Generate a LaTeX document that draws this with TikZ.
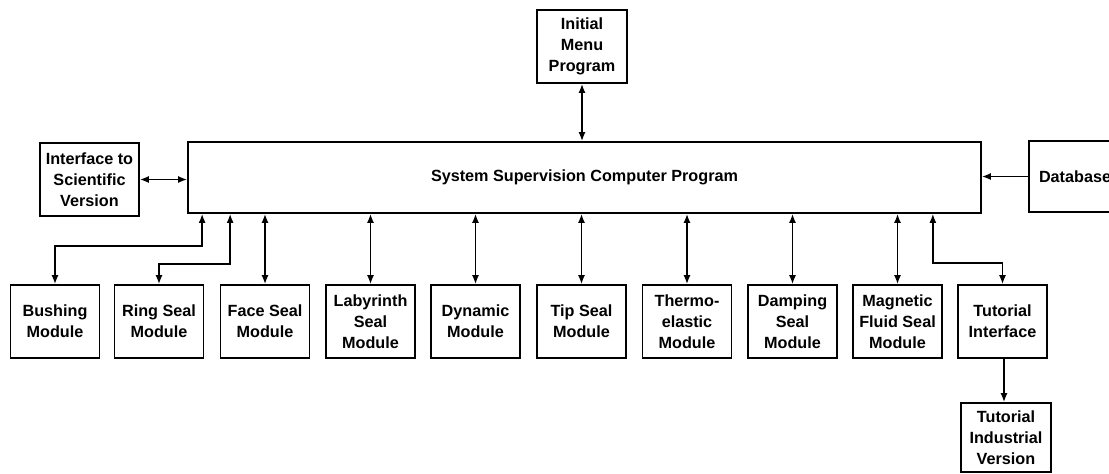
\documentclass[tikz,border=0pt]{standalone}
\usepackage{fontspec}
\setmainfont{Liberation Sans}
\usetikzlibrary{arrows.meta,calc}
\begin{document}
\begin{tikzpicture}[x=1pt,y=-1pt,
  box/.style={draw,line width=1.7pt,inner sep=0pt,align=center,
    font=\bfseries\fontsize{16.2}{21}\selectfont},
  mod/.style={box,minimum width=89pt,minimum height=73pt},
  conn/.style={line width=1.6pt,{Latex[length=9pt,width=7pt]}-{Latex[length=9pt,width=7pt]}},
  oneway/.style={line width=1.6pt,-{Latex[length=9pt,width=7pt]}}]
\useasboundingbox (0,0) rectangle (1109,474);
\clip (0,0) rectangle (1109,474);
\node[box,minimum width=793pt,minimum height=71pt] (main) at (584.5,177.5) {System Supervision Computer Program};
\node[box,minimum width=90pt,minimum height=73pt] (init) at (582,46.5) {Initial\\Menu\\Program};
\node[box,minimum width=99pt,minimum height=73pt] (iface) at (89.5,179.5) {Interface to\\Scientific\\Version};
\node[box,minimum width=96pt,minimum height=71pt,text width=76pt,align=left] (db) at (1077,176.5) {Database};
\node[mod] (bush) at (55,321.5) {Bushing\\Module};
\node[mod] (ring) at (159,321.5) {Ring Seal\\Module};
\node[mod] (face) at (265,321.5) {Face Seal\\Module};
\node[mod] (laby) at (370.5,321.5) {Labyrinth\\Seal\\Module};
\node[mod] (dyn) at (475.5,321.5) {Dynamic\\Module};
\node[mod] (tip) at (581.5,321.5) {Tip Seal\\Module};
\node[mod] (thermo) at (687,321.5) {Thermo-\\elastic\\Module};
\node[mod] (damp) at (792.5,321.5) {Damping\\Seal\\Module};
\node[mod] (magn) at (897.5,321.5) {Magnetic\\Fluid Seal\\Module};
\node[mod] (tut) at (1002.5,321.5) {Tutorial\\Interface};
\node[box,minimum width=90pt,minimum height=69pt] (tind) at (1006,437.5) {Tutorial\\Industrial\\Version};
% connectors
\draw[conn] (init.south) -- (main.north -| init.south);
\draw[conn] (iface.east) -- (main.west |- iface.east);
\draw[oneway] (db.west) -- (main.east |- db.west);
\draw[conn] ($(main.south west)+(15,0)$) -- ++(0,32) -| (bush.north);
\draw[conn] ($(main.south west)+(43,0)$) -- ++(0,50) -| (ring.north);
\draw[conn] (main.south -| face.north) -- (face.north);
\draw[conn] (main.south -| laby.north) -- (laby.north);
\draw[conn] (main.south -| dyn.north) -- (dyn.north);
\draw[conn] (main.south -| tip.north) -- (tip.north);
\draw[conn] (main.south -| thermo.north) -- (thermo.north);
\draw[conn] (main.south -| damp.north) -- (damp.north);
\draw[conn] (main.south -| magn.north) -- (magn.north);
\draw[conn] ($(main.south east)+(-49,0)$) -- ++(0,49) -| (tut.north);
\draw[oneway] ($(tut.south)+(1.5,0)$) -- ($(tind.north)+(-2,0)$);
\end{tikzpicture}
\end{document}
